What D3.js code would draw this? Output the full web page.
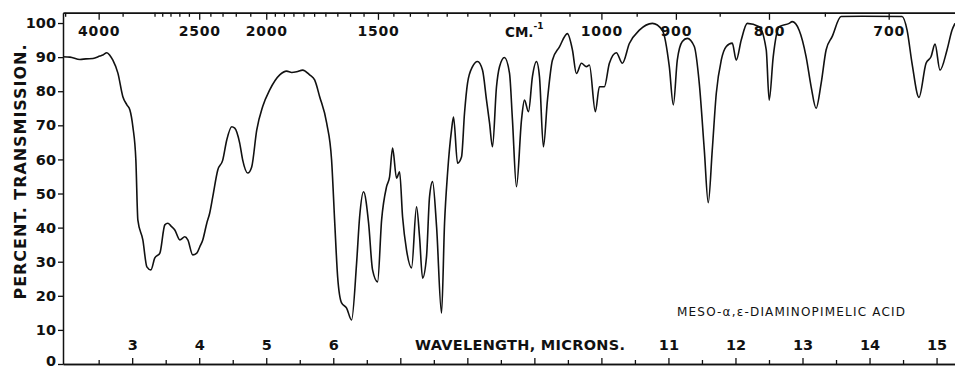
<!DOCTYPE html>
<html>
<head>
<meta charset="utf-8">
<script src="https://cdn.jsdelivr.net/npm/d3@7"></script>
<style>
  html, body { margin: 0; padding: 0; background: #fff; }
  svg { display: block; }
  text { font-family: "DejaVu Sans", sans-serif; fill: #111; }
</style>
</head>
<body>
<svg id="chart" width="955" height="369"></svg>
<script>
// ---- data ----
const wavelength = [1.968,2.072,2.221,2.31,2.415,2.519,2.563,2.623,2.668,2.712,2.787,2.861,2.921,2.966,3.010,3.055,3.085,
  3.159,3.219,3.279,3.338,3.413,3.487,3.532,3.577,3.636,3.711,3.785,3.830,3.904,3.964,4.009,4.053,4.113,4.157,4.202,
  4.277,4.351,4.411,4.485,4.530,4.604,4.649,4.724,4.783,4.858,4.947,5.052,5.201,5.305,5.380,5.454,5.543,5.648,5.722,
  5.797,5.901,5.975,6.020,6.065,6.124,6.199,6.273,6.348,6.393,6.452,6.527,6.586,6.661,6.721,6.795,6.840,6.885,6.944,
  6.989,7.034,7.093,7.168,7.242,7.287,7.332,7.391,7.436,7.481,7.541,7.615,7.660,7.705,7.764,7.794,7.854,7.913,7.958,
  8.003,8.077,8.152,8.226,8.286,8.331,8.375,8.435,8.480,8.554,8.629,8.673,8.733,8.808,8.852,8.912,8.971,9.031,9.076,
  9.135,9.195,9.269,9.374,9.493,9.568,9.627,9.702,9.776,9.821,9.910,9.970,10.044,10.119,10.223,10.313,10.417,10.566,
  10.760,10.909,11.013,11.073,11.132,11.207,11.281,11.386,11.460,11.535,11.594,11.654,11.714,11.788,11.863,11.952,
  12.012,12.086,12.176,12.354,12.459,12.503,12.563,12.652,12.801,12.846,12.950,13.054,13.129,13.203,13.278,13.352,
  13.442,13.576,13.889,14.485,14.560,14.634,14.738,14.843,14.917,14.977,15.051,15.156,15.230,15.275];
const transmission = [90.1,90.0,89.3,89.5,89.6,90.3,90.6,91.3,90.5,89.1,85.3,78.4,76,74.5,69.6,59.8,42.2,
  36.4,28.5,27.6,31.1,32.5,40.8,41.3,40.5,39.3,36.4,37.3,36.4,32,32.5,34.4,36.4,41.3,44.3,49,
  56.9,59.8,65.7,69.6,69.2,64.8,59.8,56,57.8,68.6,75.5,80.4,84.8,85.9,85.5,85.7,86.2,84.8,83.3,
  78.4,70.7,59.8,42.2,25.6,17.9,16.4,12.9,29.6,43.1,50.5,41.3,27.6,24.1,42.2,52,54.9,63.3,54.5,
  56.4,43.1,33.4,28.2,46.1,37.3,25.2,31.5,49,53.5,40.3,14.9,41.3,56,68.6,72.4,58.9,60.7,73.6,
  82.4,87.2,88.7,86.2,77.4,70.7,63.7,81.3,87.2,89.9,85.3,71.6,52,71.6,77.4,74,84.3,88.7,84.3,
  63.7,77.4,89.1,93,96.9,92.1,85.2,88.2,87.2,87.7,74,81.3,81.3,88.2,91.3,88.2,94,97.9,
  99.9,97.9,87.2,76,89.1,94.6,95.5,93.1,82.3,62.8,47.3,62.8,79.4,89.1,93.1,94.1,
  89.1,95,99.9,98.9,92.1,77.4,90.1,98.9,99.9,100.4,97.9,90.1,81.3,75,82.3,92.1,
  96,101.9,102,101.9,97.9,88.2,78.2,88.2,90.1,93.8,86.2,92.1,97.9,99.9];

const yTicks = [0,10,20,30,40,50,60,70,80,90,100];
const bottomLabelled = [3,4,5,6,11,12,13,14,15];
const bottomMajor = [3,4,5,6,7,8,9,10,11,12,13,14,15];
const bottomMinor = [2.5,3.5,4.5,5.5,6.5,7.5,8.5,9.5,10.5,11.5,12.5,13.5,14.5];
const topLabelled = [4000,2500,2000,1500,1000,900,800,700];
const topMinor = [5000,3500,3000,2900,2800,2700,2600,2400,2300,2200,2100,1950,1900,1850,1800,1750,1700,1650,1600,
  1550,1450,1400,1350,1300,1250,1200,1150,1100,1050,950,850,750];
const xTitle = "WAVELENGTH, MICRONS.";
const yTitle = "PERCENT. TRANSMISSION.";
const compound = "MESO-\u03b1,\u03b5-DIAMINOPIMELIC ACID";

// ---- layout ----
const svg = d3.select("#chart");
const mLeft = 63, mRight = 955, mTop = 12.8, mBottom = 364;
const x = d3.scaleLinear().domain([1.968, 15.275]).range([mLeft, mRight]);
const y = d3.scaleLinear().domain([0, 103]).range([mBottom, mTop]);
const fromWn = wn => 10000 / wn;

function styleAxis(g) {
  g.selectAll("path.domain").attr("stroke", "#111").attr("stroke-width", 1.5);
  g.selectAll(".tick line").attr("stroke", "#111").attr("stroke-width", 1.3);
  g.selectAll(".tick text").attr("font-family", "DejaVu Sans, sans-serif").attr("fill", "#111");
}

// left axis
const gy = svg.append("g").attr("transform", `translate(${mLeft},0)`)
  .call(d3.axisLeft(y).tickValues(yTicks).tickSize(5).tickSizeOuter(0).tickPadding(2));
styleAxis(gy);
gy.selectAll(".tick text").attr("font-size", 14.5).attr("font-weight", "bold");
// keep the "0" label inside the picture
gy.selectAll(".tick text").filter(d => d === 0).attr("dy", "0.1em");

// bottom axis (ticks pointing up, labels above the line)
const gbMinor = svg.append("g").attr("transform", `translate(0,${mBottom})`)
  .call(d3.axisTop(x).tickValues(bottomMinor).tickSize(4).tickSizeOuter(0).tickFormat(""));
styleAxis(gbMinor);
const gb = svg.append("g").attr("transform", `translate(0,${mBottom})`)
  .call(d3.axisTop(x).tickValues(bottomMajor).tickSize(6).tickSizeOuter(0).tickPadding(8)
    .tickFormat(d => bottomLabelled.includes(d) ? d : ""));
styleAxis(gb);
gb.selectAll(".tick text").attr("font-size", 14.5).attr("font-weight", "bold");

// top axis (wavenumber, ticks pointing down)
const gtMinor = svg.append("g").attr("transform", `translate(0,${mTop})`)
  .call(d3.axisBottom(x).tickValues(topMinor.map(fromWn)).tickSize(4).tickSizeOuter(0).tickFormat(""));
styleAxis(gtMinor);
const gt = svg.append("g").attr("transform", `translate(0,${mTop})`)
  .call(d3.axisBottom(x).tickValues(topLabelled.map(fromWn)).tickSize(7).tickSizeOuter(0).tickPadding(6)
    .tickFormat(d => String(Math.round(10000 / d))));
styleAxis(gt);
gt.selectAll(".tick text").attr("font-size", 14).attr("font-weight", "bold").attr("letter-spacing", "0.8px");

// CM-1 label
const cm = svg.append("text").attr("x", x(fromWn(1130))).attr("y", 37)
  .attr("font-size", 13.5).attr("font-weight", "bold").attr("text-anchor", "middle");
cm.append("tspan").text("CM.");
cm.append("tspan").attr("font-size", 9).attr("dy", -8).text("-1");

// spectrum
const line = d3.line().x((d, i) => x(wavelength[i])).y((d, i) => y(transmission[i])).curve(d3.curveMonotoneX);
svg.append("path").datum(transmission)
  .attr("d", line).attr("fill", "none").attr("stroke", "#111").attr("stroke-width", 1.6)
  .attr("stroke-linejoin", "round");

// titles
svg.append("text").attr("x", 415).attr("y", 350).attr("font-size", 14.5).attr("font-weight", "bold")
  .attr("textLength", 210).attr("lengthAdjust", "spacing").text(xTitle);
svg.append("text").attr("transform", "translate(26,172) rotate(-90)").attr("text-anchor", "middle")
  .attr("font-size", 16).attr("font-weight", "bold")
  .attr("textLength", 255).attr("lengthAdjust", "spacing").text(yTitle);
svg.append("text").attr("x", 677).attr("y", 316).attr("font-size", 12)
  .attr("textLength", 228).attr("lengthAdjust", "spacing").text(compound);
</script>
</body>
</html>
